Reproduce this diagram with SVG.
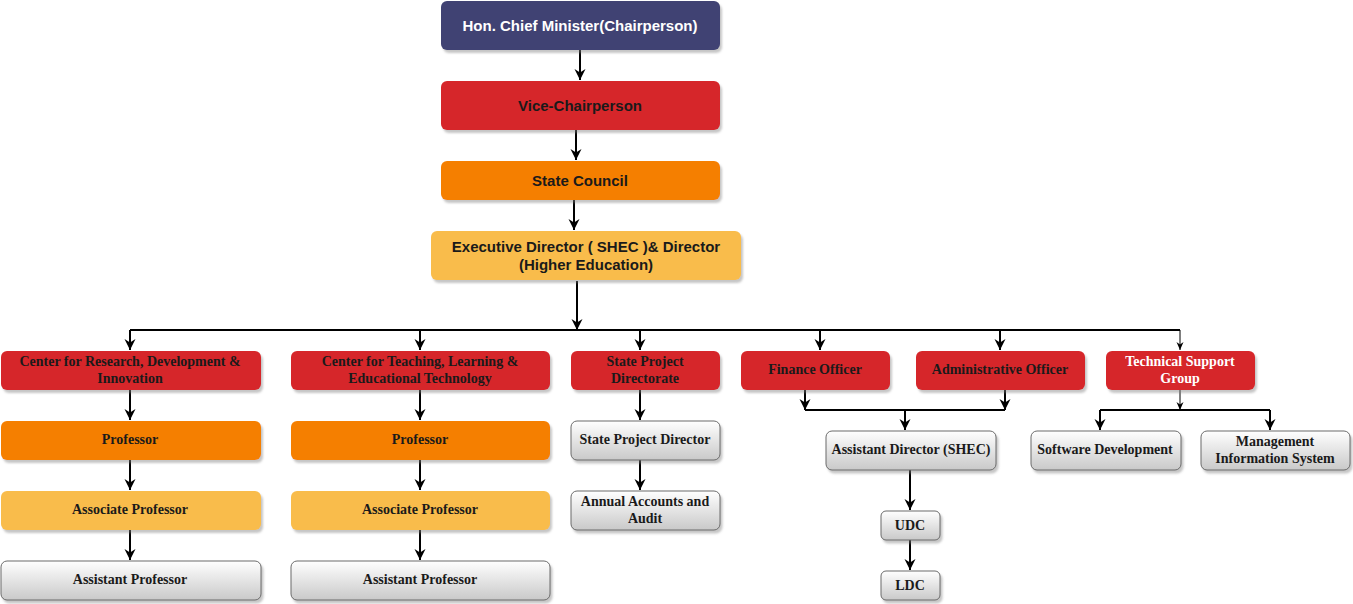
<svg xmlns="http://www.w3.org/2000/svg" width="1353" height="604" viewBox="0 0 1353 604">
<style>
.n{stroke:none;filter:url(#sh)}
.navy{fill:#3f4273}.red{fill:#d6282b}.org{fill:#f57f00}.yel{fill:#f9bc4b}
.gry{fill:url(#g);stroke:#6b6b6b;stroke-width:1}
.ta{font-family:"Liberation Sans",Arial,sans-serif;font-weight:bold;font-size:15px;text-anchor:middle;fill:#1a1a1a}
.tt{font-family:"Liberation Serif","Times New Roman",serif;font-weight:bold;font-size:14px;text-anchor:middle;fill:#1a1a1a}
.w{fill:#ffffff}
.c{fill:none;stroke:#000;stroke-width:2;marker-end:url(#ar)}
.cn{fill:none;stroke:#000;stroke-width:2}
.cs{fill:none;stroke:#000;stroke-width:1;marker-end:url(#ars)}
</style>
<defs>
<linearGradient id="g" x1="0" y1="0" x2="0" y2="1"><stop offset="0" stop-color="#ffffff"/><stop offset="1" stop-color="#c9c9c9"/></linearGradient>
<filter id="sh" x="-5%" y="-10%" width="115%" height="140%"><feDropShadow dx="2" dy="3" stdDeviation="1" flood-color="#808080" flood-opacity="0.45"/></filter>
<marker id="ar" markerUnits="userSpaceOnUse" markerWidth="12" markerHeight="12" refX="11" refY="6" orient="auto"><path d="M0,0.5 L11,6 L0,11.5 L3.5,6 z" fill="#000"/></marker>
<marker id="ars" markerUnits="userSpaceOnUse" markerWidth="10" markerHeight="10" refX="8" refY="4" orient="auto"><path d="M0,0.5 L8,4 L0,7.5 L2.5,4 z" fill="#000"/></marker>
</defs>
<rect width="1353" height="604" fill="#ffffff"/>
<g id="connectors">
<path class="c" d="M580,50 V80"/>
<path class="c" d="M576,130 V160"/>
<path class="c" d="M574,200 V230"/>
<path class="c" d="M577,281 V330"/>
<path class="cn" d="M130,330 H1180"/>
<path class="c" d="M130,330 V350"/>
<path class="c" d="M420,330 V350"/>
<path class="c" d="M640,330 V350"/>
<path class="c" d="M820,330 V350"/>
<path class="c" d="M1000,330 V350"/>
<path class="cs" d="M1180,330 V350"/>
<path class="c" d="M130,390 V420"/>
<path class="c" d="M130,460 V490"/>
<path class="c" d="M130,530 V560"/>
<path class="c" d="M420,390 V420"/>
<path class="c" d="M420,460 V490"/>
<path class="c" d="M420,530 V560"/>
<path class="c" d="M640,390 V420"/>
<path class="c" d="M640,460 V490"/>
<path class="c" d="M805,390 V410"/>
<path class="c" d="M1005,390 V410"/>
<path class="cn" d="M805,410 H1005"/>
<path class="c" d="M905,410 V430"/>
<path class="c" d="M910,470 V510"/>
<path class="c" d="M910,540 V570"/>
<path class="cs" d="M1180,390 V410"/>
<path class="cn" d="M1100,410 H1270"/>
<path class="c" d="M1100,410 V430"/>
<path class="c" d="M1270,410 V430"/>
</g>
<g id="n-chief"><rect class="n navy" x="441" y="1" width="279" height="49" rx="6"/><text class="ta w" x="580" y="31">Hon. Chief Minister(Chairperson)</text></g>
<g id="n-vice"><rect class="n red" x="441" y="81" width="279" height="49" rx="6"/><text class="ta" x="580" y="111">Vice-Chairperson</text></g>
<g id="n-council"><rect class="n org" x="441" y="161" width="279" height="39" rx="6"/><text class="ta" x="580" y="186">State Council</text></g>
<g id="n-exec"><rect class="n yel" x="431" y="231" width="310" height="49" rx="6"/><text class="ta" x="586" y="252">Executive Director ( SHEC )&amp; Director</text><text class="ta" x="586" y="270">(Higher Education)</text></g>
<g id="n-crdi"><rect class="n red" x="1" y="351" width="260" height="39" rx="6"/><text class="tt" x="130" y="366">Center for Research, Development &amp;</text><text class="tt" x="130" y="383">Innovation</text></g>
<g id="n-ctlet"><rect class="n red" x="291" y="351" width="259" height="39" rx="6"/><text class="tt" x="420" y="366">Center for Teaching, Learning &amp;</text><text class="tt" x="420" y="383">Educational Technology</text></g>
<g id="n-spd"><rect class="n red" x="571" y="351" width="149" height="39" rx="6"/><text class="tt" x="645" y="366">State Project</text><text class="tt" x="645" y="383">Directorate</text></g>
<g id="n-fin"><rect class="n red" x="741" y="351" width="149" height="39" rx="6"/><text class="tt" x="815" y="374">Finance Officer</text></g>
<g id="n-adm"><rect class="n red" x="916" y="351" width="169" height="39" rx="6"/><text class="tt" x="1000" y="374">Administrative Officer</text></g>
<g id="n-tsg"><rect class="n red" x="1106" y="351" width="149" height="39" rx="6"/><text class="tt w" x="1180" y="366">Technical Support</text><text class="tt w" x="1180" y="383">Group</text></g>
<g id="n-prof1"><rect class="n org" x="1" y="421" width="260" height="39" rx="6"/><text class="tt" x="130" y="444">Professor</text></g>
<g id="n-prof2"><rect class="n org" x="291" y="421" width="259" height="39" rx="6"/><text class="tt" x="420" y="444">Professor</text></g>
<g id="n-assoc1"><rect class="n yel" x="1" y="491" width="260" height="39" rx="6"/><text class="tt" x="130" y="514">Associate Professor</text></g>
<g id="n-assoc2"><rect class="n yel" x="291" y="491" width="259" height="39" rx="6"/><text class="tt" x="420" y="514">Associate Professor</text></g>
<g id="n-asst1"><rect class="n gry" x="1" y="561" width="260" height="39" rx="6"/><text class="tt" x="130" y="584">Assistant Professor</text></g>
<g id="n-asst2"><rect class="n gry" x="291" y="561" width="259" height="39" rx="6"/><text class="tt" x="420" y="584">Assistant Professor</text></g>
<g id="n-spdir"><rect class="n gry" x="571" y="421" width="149" height="39" rx="6"/><text class="tt" x="645" y="444">State Project Director</text></g>
<g id="n-annual"><rect class="n gry" x="571" y="491" width="149" height="39" rx="6"/><text class="tt" x="645" y="506">Annual Accounts and</text><text class="tt" x="645" y="523">Audit</text></g>
<g id="n-ad"><rect class="n gry" x="826" y="431" width="170" height="39" rx="6"/><text class="tt" x="911" y="454">Assistant Director (SHEC)</text></g>
<g id="n-udc"><rect class="n gry" x="881" y="511" width="59" height="29" rx="5"/><text class="tt" x="910" y="530">UDC</text></g>
<g id="n-ldc"><rect class="n gry" x="881" y="571" width="59" height="29" rx="5"/><text class="tt" x="910" y="590">LDC</text></g>
<g id="n-sw"><rect class="n gry" x="1031" y="431" width="150" height="39" rx="6"/><text class="tt" x="1105" y="454">Software Development</text></g>
<g id="n-mis"><rect class="n gry" x="1201" y="431" width="149" height="39" rx="6"/><text class="tt" x="1275" y="446">Management</text><text class="tt" x="1275" y="463">Information System</text></g>
</svg>
